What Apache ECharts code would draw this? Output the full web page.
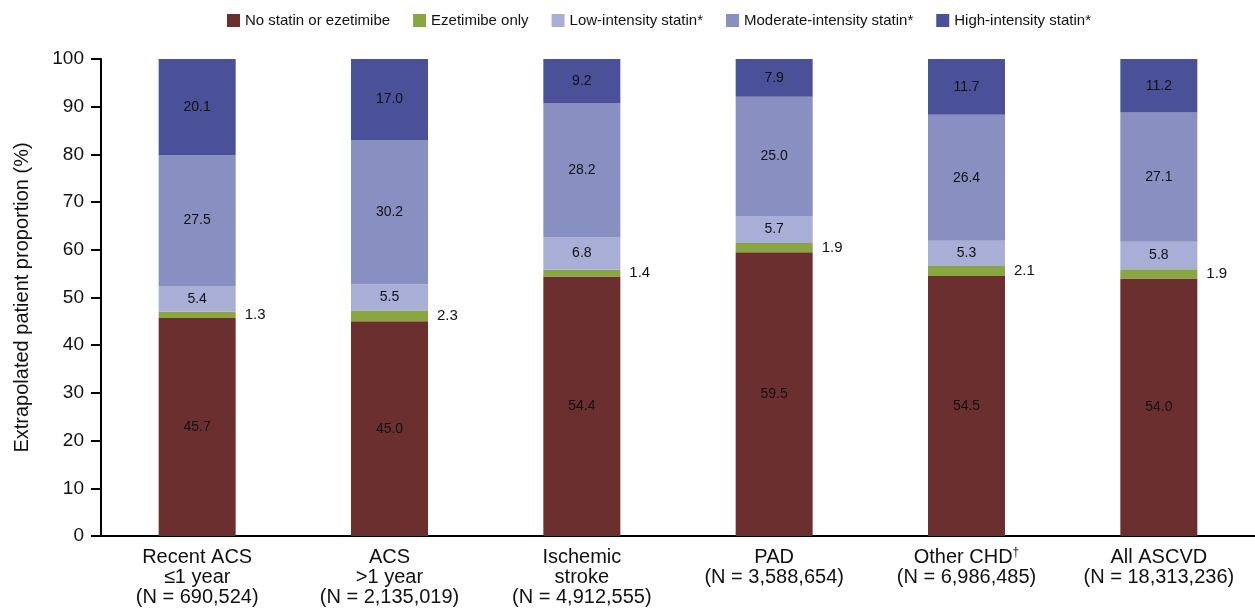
<!DOCTYPE html>
<html>
<head>
<meta charset="utf-8">
<script src="https://cdn.jsdelivr.net/npm/echarts@6/dist/echarts.min.js"></script>
<style>
html,body{margin:0;padding:0;background:#fff;}
#chart{width:1255px;height:608px;}
</style>
</head>
<body>
<div id="chart"></div>
<script>
const categories = [
  'Recent ACS\n≤1 year\n(N = 690,524)',
  'ACS\n>1 year\n(N = 2,135,019)',
  'Ischemic\nstroke\n(N = 4,912,555)',
  'PAD\n(N = 3,588,654)',
  'Other CHD†\n(N = 6,986,485)',
  'All ASCVD\n(N = 18,313,236)'
];
const seriesNames = ['No statin or ezetimibe','Ezetimibe only','Low-intensity statin*','Moderate-intensity statin*','High-intensity statin*'];
const noStatin = [45.7, 45.0, 54.4, 59.5, 54.5, 54.0];
const ezetimibe = [1.3, 2.3, 1.4, 1.9, 2.1, 1.9];
const lowStatin = [5.4, 5.5, 6.8, 5.7, 5.3, 5.8];
const modStatin = [27.5, 30.2, 28.2, 25.0, 26.4, 27.1];
const highStatin = [20.1, 17.0, 9.2, 7.9, 11.7, 11.2];
const yTicks = [0,10,20,30,40,50,60,70,80,90,100];

const colors = ['#6c2f2f','#8aa640','#a8aed6','#8890c2','#4b5198'];
const font = '"Liberation Sans", Arial, sans-serif';
const values = [noStatin, ezetimibe, lowStatin, modStatin, highStatin];

const series = values.map((arr, i) => ({
  name: seriesNames[i],
  type: 'bar',
  stack: 'total',
  barWidth: 77,
  data: arr,
  itemStyle: { color: colors[i] },
  label: {
    show: true,
    position: i === 1 ? 'right' : 'inside',
    distance: 9,
    color: '#111',
    fontFamily: font,
    fontSize: i === 1 ? 15 : 14,
    formatter: p => p.value.toFixed(1)
  }
}));

const chart = echarts.init(document.getElementById('chart'));
chart.setOption({
  animation: false,
  textStyle: { fontFamily: font },
  legend: {
    top: 8,
    left: 222,
    itemWidth: 13,
    itemHeight: 13,
    itemGap: 23,
    icon: 'rect',
    textStyle: { fontSize: 15, color: '#111', fontFamily: font },
    data: seriesNames
  },
  grid: { left: 101, right: -4, top: 59, bottom: 72, containLabel: false },
  xAxis: {
    type: 'category',
    data: categories,
    axisLine: { show: true, lineStyle: { color: '#000', width: 2 } },
    axisTick: { show: false },
    axisLabel: {
      color: '#111', fontSize: 20, lineHeight: 20, margin: 11, fontFamily: font, interval: 0,
      formatter: v => v.replace('†', '{sup|†}'),
      rich: { sup: { fontSize: 12, verticalAlign: 'top', color: '#111', fontFamily: font, padding: [0, 0, 6, 0] } }
    }
  },
  yAxis: {
    type: 'value',
    min: yTicks[0],
    max: yTicks[yTicks.length - 1],
    interval: 10,
    name: 'Extrapolated patient proportion (%)',
    nameLocation: 'middle',
    nameGap: 69,
    nameTextStyle: { fontSize: 20, color: '#111', fontFamily: font },
    axisLine: { show: true, lineStyle: { color: '#000', width: 2 } },
    axisTick: { show: true, length: 10, lineStyle: { color: '#000', width: 2 } },
    axisLabel: { color: '#111', fontSize: 19, margin: 17, fontFamily: font },
    splitLine: { show: false }
  },
  series: series
});
</script>
</body>
</html>
